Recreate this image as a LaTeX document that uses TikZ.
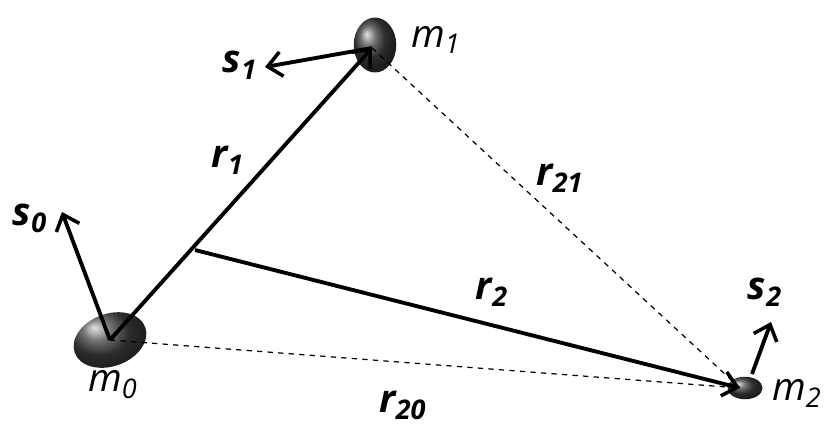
\documentclass[tikz,border=0pt]{standalone}
\usepackage{fontspec}
\setmainfont{Open Sans}
\usetikzlibrary{arrows.meta,shapes.geometric}
\tikzset{
  mass/.style={ellipse, ball color=black!75, inner sep=0pt},
  vec/.style={line width=2.2pt, -{Straight Barb[length=8pt,width=14pt,line width=2pt]}},
  sep/.style={dashed, line width=0.7pt},
  lab/.style={font=\fontsize{22}{24}\selectfont\bfseries\itshape},
  mlab/.style={font=\fontsize{22}{24}\selectfont\itshape}
}
\begin{document}
\begin{tikzpicture}[x=0.02cm,y=-0.02cm]
  \useasboundingbox (0,0) rectangle (830,430);
  % masses
  \node[mass, minimum width=76\pgflinewidth*0+1.5cm, minimum height=1.05cm, rotate=20] (m0) at (110,340) {};
  \node[mass, minimum width=0.85cm, minimum height=1.1cm] (m1) at (375,45) {};
  \node[mass, minimum width=0.7cm, minimum height=0.45cm] (m2) at (745,388) {};
  \coordinate (c0) at (110,340);
  \coordinate (c1) at (372,48);
  \coordinate (c2) at (740,388);
  \coordinate (p) at (195,250);
  \coordinate (s0) at (62,212);
  \coordinate (s1) at (265,67);
  \coordinate (s2) at (771,322);
  % separations
  \draw[sep] (c0) -- (c2);
  \draw[sep] (c1) -- (c2);
  % vectors
  \draw[vec] (c0) -- (c1);
  \draw[vec] (p) -- (c2);
  \draw[vec] (c0) -- (s0);
  \draw[vec] (c1) -- (s1);
  \draw[vec] (752,374) -- (s2);
  % labels
  \node[lab] (ls0) at (30,218) {s\textsubscript{0}};
  \node[lab] (ls1) at (240,65) {s\textsubscript{1}};
  \node[lab] (ls2) at (765,292) {s\textsubscript{2}};
  \node[lab] (lr1) at (228,160) {r\textsubscript{1}};
  \node[lab] (lr2) at (492,292) {r\textsubscript{2}};
  \node[lab] (lr21) at (560,178) {r\textsubscript{21}};
  \node[lab] (lr20) at (403,405) {r\textsubscript{20}};
  \node[mlab] (lm0) at (113,385) {m\textsubscript{0}};
  \node[mlab] (lm1) at (436,40) {m\textsubscript{1}};
  \node[mlab] (lm2) at (797,393) {m\textsubscript{2}};
\end{tikzpicture}
\end{document}
